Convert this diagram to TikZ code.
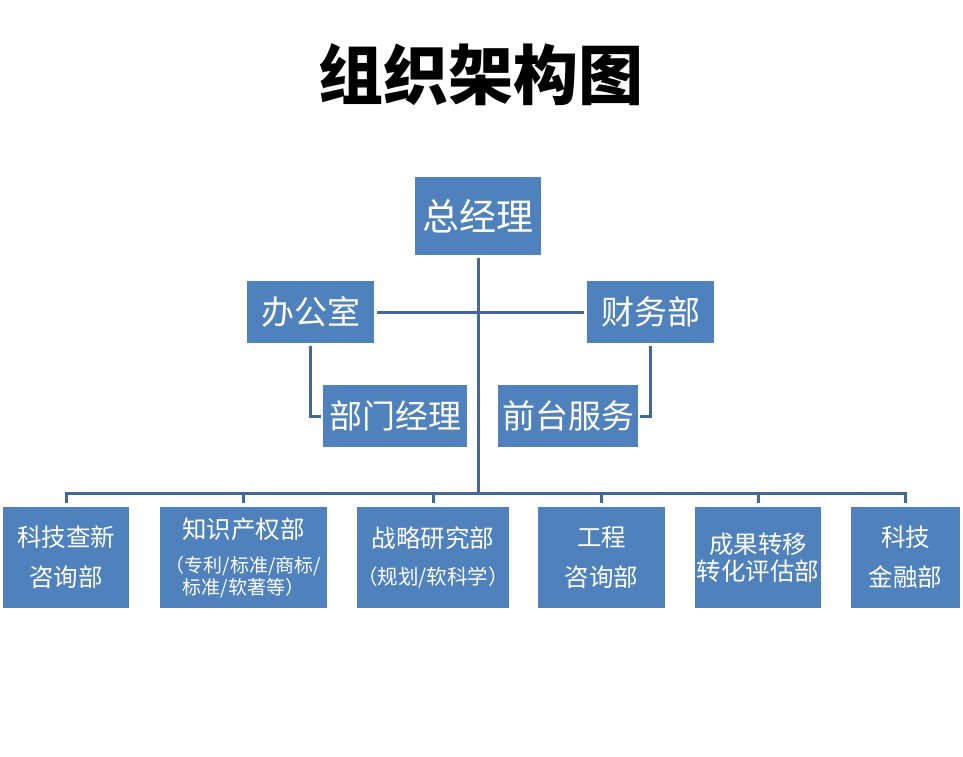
\documentclass[tikz,border=0pt]{standalone}
\usepackage{fontspec}
\setmainfont{Noto Sans CJK SC}
\usetikzlibrary{positioning}

\definecolor{boxblue}{RGB}{79,129,189}
\definecolor{lineblue}{RGB}{66,103,153}

\begin{document}
\begin{tikzpicture}[x=1pt,y=-1pt,
  box/.style={fill=boxblue,text=white,inner sep=0pt,align=center},
  topbox/.style={box,minimum height=62pt,font=\fontsize{33}{36}\selectfont},
  dept/.style={box,minimum height=101pt,font=\fontsize{24.5}{40}\selectfont},
  link/.style={draw=lineblue,line width=3pt}]
  \useasboundingbox (0,0) rectangle (963,756);
  \node[font=\fontsize{65}{70}\selectfont\bfseries] (title) at (481,75) {组织架构图};

  % management
  \node[box,minimum width=126pt,minimum height=78pt,font=\fontsize{37}{40}\selectfont] (ceo) at (478,216) {总经理};
  \node[topbox,minimum width=127pt] (office) at (310.5,312) {办公室};
  \node[topbox,minimum width=127pt] (finance) at (650.5,312) {财务部};
  \node[topbox,minimum width=144pt] (mgr) at (395,416) {部门经理};
  \node[topbox,minimum width=140pt] (desk) at (568,416) {前台服务};

  % departments
  \node[dept,minimum width=126pt] (b1) at (66,557.5) {科技查新\\咨询部};
  \node[dept,minimum width=167pt] (b2) at (243.5,557.5)
    {知识产权部\\[-6pt]\fontsize{19}{22}\selectfont（专利/标准/商标/\\[-18pt]\fontsize{19}{22}\selectfont 标准/软著等）};
  \node[dept,minimum width=150pt] (b3) at (433,557.5) {战略研究部\\[-3pt]\fontsize{20.5}{22}\selectfont（规划/软科学）};
  \node[dept,minimum width=127pt] (b4) at (601.5,557.5) {工程\\咨询部};
  \node[dept,minimum width=126pt] (b5) at (758,557.5) {成果转移\\[-13pt]转化评估部};
  \node[dept,minimum width=109pt] (b6) at (905.5,557.5) {科技\\金融部};

  \coordinate (bus) at (478,493);

  % connectors
  \draw[link,shorten <=3pt] (ceo) -- (bus);
  \draw[link,shorten <=3pt,shorten >=3pt] (office) -- (finance);
  \draw[link,shorten <=3pt,shorten >=2pt] (office) |- (mgr);
  \draw[link,shorten <=3pt,shorten >=2pt] (finance) |- (desk);
  \draw[link,shorten <=4pt,shorten >=4pt] (b1) |- (bus) -| (b6);
  \foreach \n in {b2,b3,b4,b5}
    \draw[link,shorten <=4pt] (\n) -- (\n |- bus);
\end{tikzpicture}
\end{document}
